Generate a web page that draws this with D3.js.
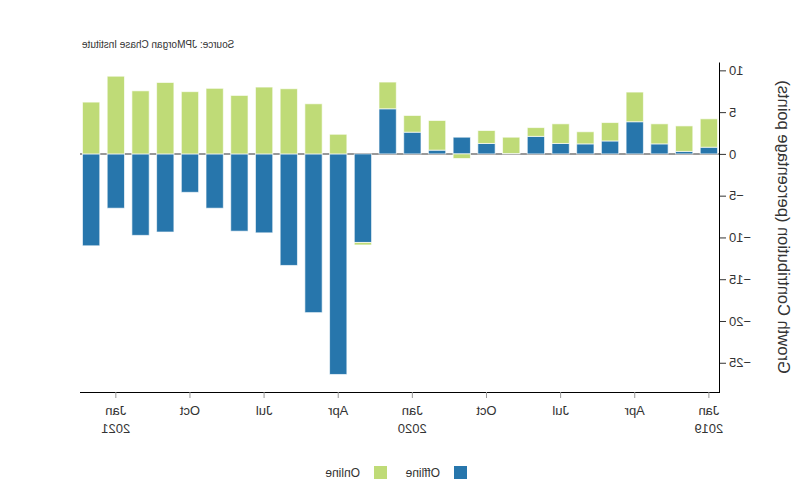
<!DOCTYPE html>
<html><head><meta charset="utf-8">
<script src="https://cdn.jsdelivr.net/npm/d3@7"></script>
<style>body{margin:0;background:#fff}svg{font-family:"Liberation Sans",Arial,sans-serif}</style>
</head><body>
<svg id="c" width="800" height="500"></svg>
<script>
const months = ["2019-01","2019-02","2019-03","2019-04","2019-05","2019-06","2019-07","2019-08","2019-09","2019-10","2019-11","2019-12",
"2020-01","2020-02","2020-03","2020-04","2020-05","2020-06","2020-07","2020-08","2020-09","2020-10","2020-11","2020-12","2021-01","2021-02"];
const offline = [0.8,0.3,1.2,3.85,1.55,1.2,1.25,2.1,0.05,1.25,2.0,0.45,2.6,5.4,-10.6,-26.4,-19.0,-13.35,-9.45,-9.25,-6.5,-4.6,-9.35,-9.75,-6.5,-11.0];
const online = [3.4,3.05,2.4,3.55,2.2,1.45,2.35,1.05,1.95,1.55,-0.55,3.55,2.0,3.2,-0.3,2.35,6.0,7.8,8.0,7.0,7.85,7.45,8.55,7.55,9.3,6.2];
const seriesNames = ["Offline","Online"];
const colors = ["#2776ac","#bfdb77"];
const yTicks = [10,5,0,-5,-10,-15,-20,-25];
const monthNames = ["Jan","Feb","Mar","Apr","May","Jun","Jul","Aug","Sep","Oct","Nov","Dec"];

const svg = d3.select("#c");
// whole chart is mirrored horizontally, as in the reference
const root = svg.append("g").attr("transform","translate(800,0) scale(-1,1)");

const rows = months.map((m,i)=>({month:m, Offline:offline[i], Online:online[i]}));
const stack = d3.stack().keys(seriesNames).offset(d3.stackOffsetDiverging)(rows);

const x = d3.scaleBand().domain(months).range([80,720]).paddingInner(0.3).paddingOuter(0.1);
const y = d3.scaleLinear().domain([-28.5,11]).range([392,62]);

// zero line
root.append("line").attr("x1",80).attr("x2",720).attr("y1",y(0)).attr("y2",y(0))
  .attr("stroke","#999").attr("stroke-width",2);

// bars
root.selectAll("g.s").data(stack).join("g").attr("fill",(d,i)=>colors[i])
  .selectAll("rect").data(d=>d).join("rect")
  .attr("x",d=>x(d.data.month)).attr("width",x.bandwidth())
  .attr("y",d=>y(Math.max(d[0],d[1]))).attr("height",d=>Math.abs(y(d[0])-y(d[1])))
  .attr("stroke","#fff").attr("stroke-opacity",0.65).attr("stroke-width",1);

// y axis
const ya = root.append("g").attr("transform","translate(80,0)")
  .call(d3.axisLeft(y).tickValues(yTicks).tickSize(6).tickSizeOuter(0));
ya.select(".domain").attr("stroke","#000");
ya.selectAll(".tick line").attr("stroke","#333");
ya.selectAll("text").attr("font-size",13).attr("fill","#333").attr("font-family","Liberation Sans, Arial, sans-serif");

// x axis
const xTickMonths = months.filter(m=>[1,4,7,10].includes(+m.slice(5)));
const xa = root.append("g").attr("transform","translate(0,392)")
  .call(d3.axisBottom(x).tickValues(xTickMonths).tickSize(6).tickSizeOuter(0).tickFormat(""));
xa.select(".domain").attr("stroke","#000").attr("d","M80,0.5H720");
xa.selectAll(".tick line").attr("stroke","#999");
xa.selectAll(".tick").each(function(m){
  const g = d3.select(this);
  const mo = +m.slice(5);
  g.append("text").attr("y",23).attr("text-anchor","middle").attr("font-size",13).attr("fill","#333")
    .text(monthNames[mo-1]);
  if(mo===1) g.append("text").attr("y",41).attr("text-anchor","middle").attr("font-size",13).attr("fill","#333")
    .text(m.slice(0,4));
});

// y label
root.append("text").attr("transform","translate(22,227) rotate(-90)").attr("text-anchor","middle")
  .attr("font-size",16.5).attr("fill","#333").text("Growth Contribution (percentage points)");

// source
root.append("text").attr("x",718).attr("y",48).attr("text-anchor","end").attr("font-size",10)
  .attr("fill","#333").text("Source: JPMorgan Chase Institute");

// legend
const leg = root.append("g").attr("transform","translate(333,466)");
const legX = [0,80];
seriesNames.forEach((s,i)=>{
  const g = leg.append("g").attr("transform",`translate(${legX[i]},0)`);
  g.append("rect").attr("width",13).attr("height",13).attr("fill",colors[i]);
  g.append("text").attr("x",27).attr("y",11).attr("font-size",12).attr("fill","#333").text(s);
});
</script>
</body></html>
